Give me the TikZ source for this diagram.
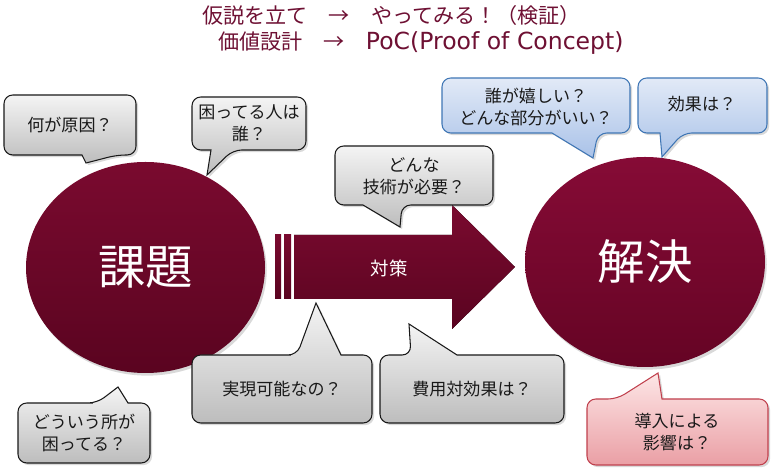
\documentclass[tikz,border=0pt]{standalone}
\usepackage{fontspec}
\setmainfont{Noto Sans CJK JP}
\newfontfamily\latinwide{DejaVu Sans}
\usetikzlibrary{shapes.geometric,shadows}
\definecolor{titlec}{HTML}{6E1033}
\definecolor{mtopA}{HTML}{7A0A2F}
\definecolor{mbotA}{HTML}{5A0420}
\definecolor{mtopB}{HTML}{860B36}
\definecolor{mbotB}{HTML}{650424}
\definecolor{gtop}{HTML}{F4F4F4}
\definecolor{gbot}{HTML}{BDBDBD}
\definecolor{btop}{HTML}{E2EAF7}
\definecolor{bbot}{HTML}{A9C2E8}
\definecolor{bline}{HTML}{3F76B5}
\definecolor{rtop}{HTML}{FDE6E6}
\definecolor{rbot}{HTML}{EA9FA5}
\definecolor{rline}{HTML}{C0404D}
\begin{document}
\begin{tikzpicture}[x=0.02cm,y=-0.02cm,
  titletext/.style={font=\fontsize{12}{14}\selectfont, text=titlec, inner sep=0, anchor=west},
  bigcirc/.style={ellipse, inner sep=0, text=white, font=\fontsize{27}{30}\selectfont,
     drop shadow={shadow xshift=1pt, shadow yshift=-1.5pt, opacity=0.3}},
  callbase/.style={line width=0.6pt, rounded corners=5pt,
     drop shadow={shadow xshift=1.2pt, shadow yshift=-1.2pt, opacity=0.3}},
  graycall/.style={callbase, draw=black!90, top color=gtop, bottom color=gbot},
  bluecall/.style={callbase, draw=bline, top color=btop, bottom color=bbot},
  redcall/.style={callbase, draw=rline, top color=rtop, bottom color=rbot},
  lbl/.style={font=\fontsize{9.7}{12.4}\selectfont, align=center, text=black!90, inner sep=0},
  arrowfill/.style={top color=mtopA, bottom color=mbotA, draw=none}
]
\useasboundingbox (0,0) rectangle (775,475);

% title
\node[titletext] (t1) at (202,15) {仮説を立て　→　やってみる！（検証）};
\node[titletext] (t2) at (218,43) {価値設計　→　{\latinwide\fontsize{13.4}{14}\selectfont PoC(Proof of Concept)}};

% circles
\node[bigcirc, minimum width=239*0.02cm, minimum height=211*0.02cm,
      top color=mtopA, bottom color=mbotA] (kadai) at (145.5,267.5) {課題};
\node[bigcirc, minimum width=240*0.02cm, minimum height=210*0.02cm,
      top color=mtopB, bottom color=mbotB] (kaiketsu) at (645,262) {解決};

% arrow
\fill[arrowfill] (275,235) rectangle (281,299);
\fill[arrowfill] (284,235) rectangle (291,299);
\fill[arrowfill] (294,235) -- (452,235) -- (452,205) -- (515,267) -- (452,329) -- (452,299) -- (294,299) -- cycle;
\node[text=white, font=\fontsize{10.5}{12}\selectfont, inner sep=0] (taisaku) at (389,268) {対策};

% callouts (gray)
\path[graycall] (70,95) -- (136,95) -- (136,155) -- (117,155) [sharp corners] -- (86,163) -- (82,155) [rounded corners=5pt] -- (4,155) -- (4,95) -- cycle;
\node[lbl] (c1) at (70,125) {何が原因？};

\path[graycall] (250,97) -- (306,97) -- (306,150) -- (233,150) [sharp corners] -- (207,175) -- (211,150) [rounded corners=5pt] -- (192,150) -- (192,97) -- cycle;
\node[lbl] (c2) at (249,123) {困ってる人は\\誰？};

\path[graycall] (415,146) -- (493,146) -- (493,205) -- (402,205) [sharp corners] -- (400,227) -- (363,205) [rounded corners=5pt] -- (335,205) -- (335,146) -- cycle;
\node[lbl] (c3) at (414,176) {どんな\\技術が必要？};

\path[graycall] (282,355) -- (297,355) [sharp corners] -- (316,303) -- (341,355) [rounded corners=5pt] -- (372,355) -- (372,423) -- (192,423) -- (192,355) -- cycle;
\node[lbl] (c6) at (282,389) {実現可能なの？};

\path[graycall] (472,355) -- (564,355) -- (564,423) -- (380,423) -- (380,355) -- (411,355) [sharp corners] -- (409,324) -- (457,355) [rounded corners=5pt] -- cycle;
\node[lbl] (c7) at (472,389) {費用対効果は？};

\path[graycall] (84,403) -- (97,403) [sharp corners] -- (118,387) -- (128,403) [rounded corners=5pt] -- (150,403) -- (150,463) -- (18,463) -- (18,403) -- cycle;
\node[lbl] (c8) at (84,433) {どういう所が\\困ってる？};

% blue callouts
\path[bluecall] (536,78) -- (630,78) -- (630,133) -- (598,133) [sharp corners] -- (593,158) -- (552,133) [rounded corners=5pt] -- (442,133) -- (442,78) -- cycle;
\node[lbl] (c4) at (536,107) {誰が嬉しい？\\どんな部分がいい？};

\path[bluecall] (702,78) -- (767,78) -- (767,133) -- (683,133) [sharp corners] -- (662,157) -- (660,133) [rounded corners=5pt] -- (638,133) -- (638,78) -- cycle;
\node[lbl] (c5) at (702,104) {効果は？};

% red callout
\path[redcall] (677,399) -- (768,399) -- (768,465) -- (587,465) -- (587,399) -- (617,399) [sharp corners] -- (658,373) -- (662,399) [rounded corners=5pt] -- cycle;
\node[lbl] (c9) at (677,432) {導入による\\影響は？};
\end{tikzpicture}
\end{document}
